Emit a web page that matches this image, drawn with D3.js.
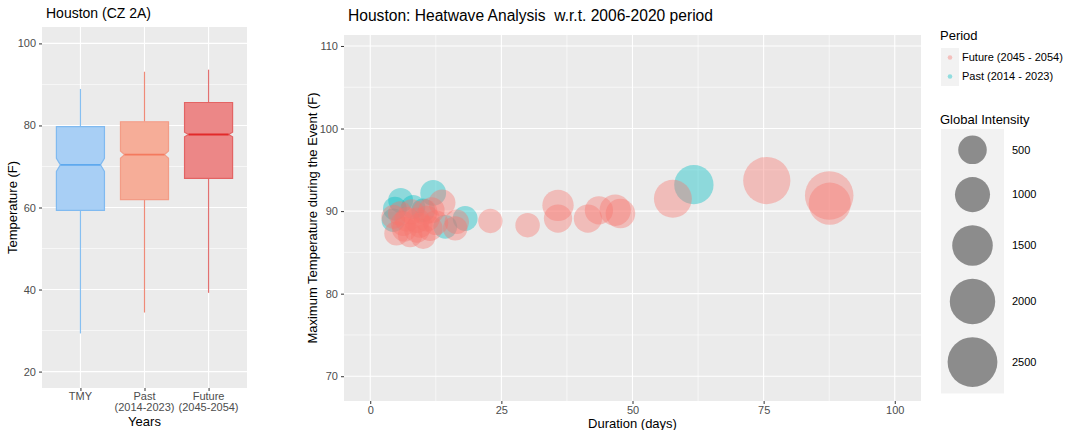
<!DOCTYPE html>
<html>
<head>
<meta charset="utf-8">
<script src="https://cdn.jsdelivr.net/npm/d3@7"></script>
<style>
  body { margin: 0; background: #fff; }
  svg text { font-family: "Liberation Sans", Arial, sans-serif; white-space: pre; }
</style>
</head>
<body>
<svg id="chart" width="1065" height="430"></svg>
<script>
// ---- Box plot summaries (hourly temperature, F) ----
const boxGroups = ["TMY", "Past", "Future"];
const boxTickLabels = [["TMY"], ["Past", "(2014-2023)"], ["Future", "(2045-2054)"]];
const whiskerLow  = [29.3, 34.4, 39.2];
const lowerQuart  = [59.3, 61.9, 67.1];
const medians     = [70.4, 72.9, 77.8];
const upperQuart  = [79.7, 80.9, 85.6];
const whiskerHigh = [88.9, 93.1, 93.6];
const notchHalf   = [1.6, 0.9, 0.55];
const boxTicks = [20, 40, 60, 80, 100];

// ---- Heatwave events ----
const futureDuration  = [5.0, 7.6, 8.9, 6.3, 8.9, 10.8, 5.7, 7.9, 10.4, 4.4, 11.4, 10.1, 11.7, 13.7, 16.5, 16.2, 6.5, 9.5, 7.0, 12.5, 22.9, 30.0, 35.8, 35.8, 41.5, 43.6, 46.7, 47.7, 57.7, 75.6, 87.5, 87.6];
const futureMaxTemp   = [87.3, 87.1, 87.7, 88.5, 88.9, 89.1, 89.7, 89.9, 89.9, 89.3, 87.9, 86.9, 90.1, 91.0, 88.7, 87.9, 87.8, 88.3, 89.0, 88.6, 88.8, 88.3, 90.7, 89.1, 89.1, 90.1, 90.1, 89.7, 91.5, 93.7, 91.9, 90.9];
const futureIntensity = [230, 240, 280, 260, 300, 320, 240, 280, 300, 200, 280, 240, 330, 380, 240, 230, 250, 270, 240, 260, 230, 240, 700, 480, 480, 480, 700, 570, 1250, 2200, 2350, 1650];

const pastDuration  = [4.4, 4.7, 5.8, 8.2, 10.1, 12.0, 14.3, 18.1, 61.7];
const pastMaxTemp   = [88.9, 90.3, 91.3, 90.5, 90.1, 92.2, 88.1, 89.1, 93.2];
const pastIntensity = [180, 200, 260, 220, 200, 320, 200, 260, 1380];

const periodLabels = ["Future (2045 - 2054)", "Past (2014 - 2023)"];
const periodColors = ["#F8766D", "#00BFC4"];
const intensityBreaks = [500, 1000, 1500, 2000, 2500];
const durationTicks = [0, 25, 50, 75, 100];
const tempTicks = [70, 80, 90, 100, 110];

const svg = d3.select("#chart");
const PANEL_BG = "#EBEBEB";
const TICK_TXT = "#4D4D4D";

// ================= Left panel: notched box plots =================
const L = { left: 42, right: 247, top: 27, bottom: 388 };
const xBox = d3.scalePoint().domain(boxGroups).range([L.left, L.right]).padding(0.6);
const yBox = d3.scaleLinear().domain([16, 104]).range([L.bottom, L.top]);
const boxW = xBox.step() * 0.75;

const gL = svg.append("g");
gL.append("rect").attr("x", L.left).attr("y", L.top)
  .attr("width", L.right - L.left).attr("height", L.bottom - L.top).attr("fill", PANEL_BG);

// minor + major grid
const minorBox = boxTicks.slice(0, -1).map((t, i) => (t + boxTicks[i + 1]) / 2);
gL.selectAll(".minY").data(minorBox).join("line")
  .attr("x1", L.left).attr("x2", L.right)
  .attr("y1", d => yBox(d)).attr("y2", d => yBox(d))
  .attr("stroke", "#fff").attr("stroke-width", 0.6);
gL.selectAll(".majY").data(boxTicks).join("line")
  .attr("x1", L.left).attr("x2", L.right)
  .attr("y1", d => yBox(d)).attr("y2", d => yBox(d))
  .attr("stroke", "#fff").attr("stroke-width", 1.1);
gL.selectAll(".majX").data(boxGroups).join("line")
  .attr("x1", d => xBox(d)).attr("x2", d => xBox(d))
  .attr("y1", L.top).attr("y2", L.bottom)
  .attr("stroke", "#fff").attr("stroke-width", 1.1);

const boxFill   = ["#A8CFF5", "#F6AD98", "#EC8787"];
const boxStroke = ["#80BAF0", "#F39C86", "#E36464"];
const medStroke = ["#5EA9EE", "#F47A5E", "#E22A2A"];
const whiskCol  = ["#86BFF1", "#EF8A78", "#E27070"];
const notchInset = 4;

boxGroups.forEach((g, i) => {
  const cx = xBox(g);
  // whiskers
  gL.append("line").attr("x1", cx).attr("x2", cx)
    .attr("y1", yBox(whiskerHigh[i])).attr("y2", yBox(upperQuart[i]))
    .attr("stroke", whiskCol[i]).attr("stroke-width", 1.2);
  gL.append("line").attr("x1", cx).attr("x2", cx)
    .attr("y1", yBox(lowerQuart[i])).attr("y2", yBox(whiskerLow[i]))
    .attr("stroke", whiskCol[i]).attr("stroke-width", 1.2);
  // notched box
  const x0 = cx - boxW / 2, x1 = cx + boxW / 2;
  const yu = yBox(upperQuart[i]), yl = yBox(lowerQuart[i]);
  const ym = yBox(medians[i]);
  const nu = yBox(medians[i] + notchHalf[i]), nl = yBox(medians[i] - notchHalf[i]);
  const pts = [[x0, yu], [x0, nu], [x0 + notchInset, ym], [x0, nl], [x0, yl],
               [x1, yl], [x1, nl], [x1 - notchInset, ym], [x1, nu], [x1, yu]];
  gL.append("path").attr("d", d3.line()(pts) + "Z")
    .attr("fill", boxFill[i]).attr("stroke", boxStroke[i]).attr("stroke-width", 1.2);
  gL.append("line").attr("x1", x0 + notchInset).attr("x2", x1 - notchInset)
    .attr("y1", ym).attr("y2", ym)
    .attr("stroke", medStroke[i]).attr("stroke-width", 1.8);
});

// axes
const axL = d3.axisLeft(yBox).tickValues(boxTicks).tickSize(3).tickPadding(3);
const gAxL = gL.append("g").attr("transform", `translate(${L.left},0)`).call(axL);
const axB = d3.axisBottom(xBox).tickSize(3).tickFormat("");
const gAxB = gL.append("g").attr("transform", `translate(0,${L.bottom})`).call(axB);
[gAxL, gAxB].forEach(a => {
  a.select(".domain").remove();
  a.selectAll(".tick line").attr("stroke", "#333");
  a.selectAll(".tick text").attr("fill", TICK_TXT).attr("font-size", 11);
});
boxGroups.forEach((g, i) => {
  const t = gL.append("text").attr("x", xBox(g)).attr("y", L.bottom + 12)
    .attr("text-anchor", "middle").attr("fill", TICK_TXT).attr("font-size", 11);
  boxTickLabels[i].forEach((line, j) =>
    t.append("tspan").attr("x", xBox(g)).attr("dy", j === 0 ? 0 : 11).text(line));
});
gL.append("text").attr("x", (L.left + L.right) / 2).attr("y", 426)
  .attr("text-anchor", "middle").attr("font-size", 13).attr("fill", "#000").text("Years");
gL.append("text").attr("transform", `translate(17,${(L.top + L.bottom) / 2}) rotate(-90)`)
  .attr("text-anchor", "middle").attr("font-size", 13).attr("fill", "#000").text("Temperature (F)");
gL.append("text").attr("x", 46).attr("y", 18).attr("font-size", 14).attr("fill", "#000")
  .text("Houston (CZ 2A)");

// ================= Right panel: bubble chart =================
const M = { left: 344, right: 921, top: 35, bottom: 401 };
const x = d3.scaleLinear().domain([-5, 105]).range([M.left, M.right]);
const y = d3.scaleLinear().domain([67, 111.33]).range([M.bottom, M.top]);
const areaScale = d3.scaleLinear().domain([0, 2500]).range([100, 620]);
const rad = v => Math.sqrt(areaScale(v));

const gM = svg.append("g");
gM.append("rect").attr("x", M.left).attr("y", M.top)
  .attr("width", M.right - M.left).attr("height", M.bottom - M.top).attr("fill", PANEL_BG);

const minorX = durationTicks.slice(0, -1).map((t, i) => (t + durationTicks[i + 1]) / 2);
const minorY = tempTicks.slice(0, -1).map((t, i) => (t + tempTicks[i + 1]) / 2);
gM.selectAll(".mx").data(minorX).join("line")
  .attr("x1", d => x(d)).attr("x2", d => x(d)).attr("y1", M.top).attr("y2", M.bottom)
  .attr("stroke", "#fff").attr("stroke-width", 0.6);
gM.selectAll(".my").data(minorY).join("line")
  .attr("y1", d => y(d)).attr("y2", d => y(d)).attr("x1", M.left).attr("x2", M.right)
  .attr("stroke", "#fff").attr("stroke-width", 0.6);
gM.selectAll(".Mx").data(durationTicks).join("line")
  .attr("x1", d => x(d)).attr("x2", d => x(d)).attr("y1", M.top).attr("y2", M.bottom)
  .attr("stroke", "#fff").attr("stroke-width", 1.1);
gM.selectAll(".My").data(tempTicks).join("line")
  .attr("y1", d => y(d)).attr("y2", d => y(d)).attr("x1", M.left).attr("x2", M.right)
  .attr("stroke", "#fff").attr("stroke-width", 1.1);

const pastPts = pastDuration.map((d, i) => ({ d, t: pastMaxTemp[i], v: pastIntensity[i], p: 1 }));
const futurePts = futureDuration.map((d, i) => ({ d, t: futureMaxTemp[i], v: futureIntensity[i], p: 0 }));
gM.selectAll(".bub").data(pastPts.concat(futurePts)).join("circle")
  .attr("cx", e => x(e.d)).attr("cy", e => y(e.t)).attr("r", e => rad(e.v))
  .attr("fill", e => periodColors[e.p]).attr("fill-opacity", 0.4);

const axMY = d3.axisLeft(y).tickValues(tempTicks).tickSize(3).tickPadding(3);
const axMX = d3.axisBottom(x).tickValues(durationTicks).tickSize(3).tickPadding(2);
const gMY = gM.append("g").attr("transform", `translate(${M.left},0)`).call(axMY);
const gMX = gM.append("g").attr("transform", `translate(0,${M.bottom})`).call(axMX);
[gMY, gMX].forEach(a => {
  a.select(".domain").remove();
  a.selectAll(".tick line").attr("stroke", "#333");
  a.selectAll(".tick text").attr("fill", TICK_TXT).attr("font-size", 11);
});
gM.append("text").attr("x", (M.left + M.right) / 2).attr("y", 428)
  .attr("text-anchor", "middle").attr("font-size", 13).attr("fill", "#000").text("Duration (days)");
gM.append("text").attr("transform", `translate(317,${(M.top + M.bottom) / 2}) rotate(-90)`)
  .attr("text-anchor", "middle").attr("font-size", 13).attr("fill", "#000")
  .text("Maximum Temperature during the Event (F)");
gM.append("text").attr("x", 348).attr("y", 21).attr("font-size", 15.6).attr("fill", "#000")
  .text("Houston: Heatwave Analysis  w.r.t. 2006-2020 period");

// ================= Legends =================
const gLeg = svg.append("g");
const legX = 941;
gLeg.append("text").attr("x", legX - 1).attr("y", 40).attr("font-size", 13).attr("fill", "#000").text("Period");
periodLabels.forEach((lab, i) => {
  const top = 48 + i * 19;
  gLeg.append("rect").attr("x", legX).attr("y", top).attr("width", 18).attr("height", 19).attr("fill", "#F2F2F2");
  gLeg.append("circle").attr("cx", legX + 9).attr("cy", top + 9.5).attr("r", 2.3)
    .attr("fill", periodColors[i]).attr("fill-opacity", 0.4);
  gLeg.append("text").attr("x", legX + 21).attr("y", top + 9.5).attr("dy", "0.35em")
    .attr("font-size", 11).attr("fill", "#000").text(lab);
});

gLeg.append("text").attr("x", legX - 1).attr("y", 124).attr("font-size", 13).attr("fill", "#000").text("Global Intensity");
const sizeTop = 129;
const rowH = intensityBreaks.map(v => 2 * rad(v) + 13);
const sizeBottom = sizeTop + d3.sum(rowH);
gLeg.append("rect").attr("x", legX).attr("y", sizeTop).attr("width", 63)
  .attr("height", sizeBottom - sizeTop).attr("fill", "#F2F2F2");
let acc = sizeTop;
intensityBreaks.forEach((v, i) => {
  const cy = acc + rowH[i] / 2;
  acc += rowH[i];
  gLeg.append("circle").attr("cx", legX + 31.5).attr("cy", cy).attr("r", rad(v))
    .attr("fill", "#000").attr("fill-opacity", 0.42);
  gLeg.append("text").attr("x", legX + 71).attr("y", cy).attr("dy", "0.35em")
    .attr("font-size", 11).attr("fill", "#000").text(v);
});
</script>
</body>
</html>
